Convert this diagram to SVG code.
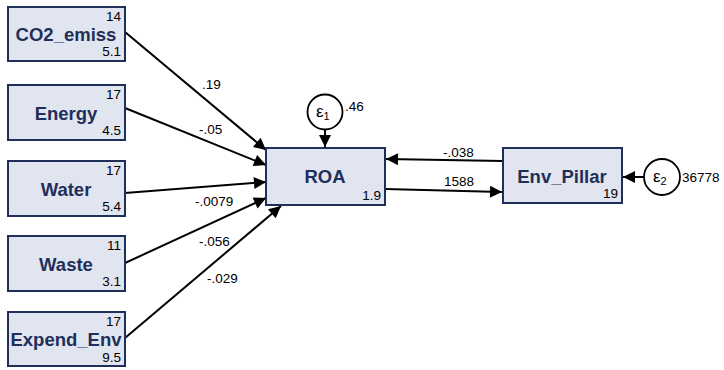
<svg xmlns="http://www.w3.org/2000/svg" width="724" height="370" viewBox="0 0 724 370">
<defs>
<marker id="ah" viewBox="0 0 10 10" refX="10" refY="5" markerWidth="15" markerHeight="12" markerUnits="userSpaceOnUse" orient="auto">
<path d="M0,0 L10,5 L0,10 z" fill="#000"/>
</marker>
<style>
.box{fill:#e1e5f0;stroke:#1f2f5a;stroke-width:2}
.lbl{font-family:"Liberation Sans",Arial,sans-serif;font-weight:bold;font-size:18.5px;fill:#1f2f5a;text-anchor:middle}
.num{font-family:"Liberation Sans",Arial,sans-serif;font-size:13.5px;fill:#000}
.r{text-anchor:end}
.ln{stroke:#000;stroke-width:2;fill:none;marker-end:url(#ah)}
.circ{fill:#fff;stroke:#000;stroke-width:1.8}
</style>
</defs>
<rect width="724" height="370" fill="#fff"/>
<g id="connectors">
<line class="ln" x1="125" y1="32" x2="266" y2="150"/>
<line class="ln" x1="125" y1="108" x2="266" y2="165"/>
<line class="ln" x1="125" y1="193" x2="266" y2="182"/>
<line class="ln" x1="125" y1="263" x2="266" y2="198"/>
<line class="ln" x1="125" y1="338" x2="281" y2="206"/>
<line class="ln" x1="385" y1="189" x2="502" y2="192"/>
<line class="ln" x1="503" y1="161" x2="386" y2="159"/>
<line class="ln" x1="325" y1="130" x2="325" y2="147"/>
<line class="ln" x1="644" y1="177" x2="623" y2="177"/>
<text class="num" x="202" y="89">.19</text>
<text class="num" x="199" y="134">-.05</text>
<text class="num" x="195" y="206">-.0079</text>
<text class="num" x="199" y="246">-.056</text>
<text class="num" x="207" y="283">-.029</text>
<text class="num" x="443" y="157">-.038</text>
<text class="num" x="444" y="186">1588</text>
</g>
<g id="CO2_emiss">
<rect class="box" x="8" y="7" width="117" height="54"/>
<text class="lbl" x="66" y="41">CO2_emiss</text>
<text class="num r" x="121" y="21">14</text>
<text class="num r" x="121" y="56">5.1</text>
</g>
<g id="Energy">
<rect class="box" x="8" y="85" width="117" height="55"/>
<text class="lbl" x="66" y="120">Energy</text>
<text class="num r" x="121" y="99">17</text>
<text class="num r" x="121" y="135">4.5</text>
</g>
<g id="Water">
<rect class="box" x="8" y="161" width="117" height="55"/>
<text class="lbl" x="66" y="196">Water</text>
<text class="num r" x="121" y="175">17</text>
<text class="num r" x="121" y="211">5.4</text>
</g>
<g id="Waste">
<rect class="box" x="8" y="236" width="117" height="55"/>
<text class="lbl" x="66" y="271">Waste</text>
<text class="num r" x="121" y="250">11</text>
<text class="num r" x="121" y="286">3.1</text>
</g>
<g id="Expend_Env">
<rect class="box" x="8" y="312" width="117" height="54"/>
<text class="lbl" x="66" y="346">Expend_Env</text>
<text class="num r" x="121" y="326">17</text>
<text class="num r" x="121" y="362">9.5</text>
</g>
<g id="ROA">
<rect class="box" x="266" y="148" width="119" height="57"/>
<text class="lbl" x="325" y="183">ROA</text>
<text class="num r" x="381" y="200">1.9</text>
</g>
<g id="Env_Pillar">
<rect class="box" x="503" y="148" width="119" height="55"/>
<text class="lbl" x="562" y="183">Env_Pillar</text>
<text class="num r" x="618" y="198">19</text>
</g>
<g id="e1">
<circle class="circ" cx="325" cy="112" r="17.5"/>
<text class="num" x="316" y="117" style="font-size:17px">ε<tspan font-size="11" dy="3">1</tspan></text>
<text class="num" x="345" y="111">.46</text>
</g>
<g id="e2">
<circle class="circ" cx="662" cy="177" r="18"/>
<text class="num" x="653" y="182" style="font-size:17px">ε<tspan font-size="11" dy="3">2</tspan></text>
<text class="num" x="682" y="182">36778</text>
</g>
</svg>
